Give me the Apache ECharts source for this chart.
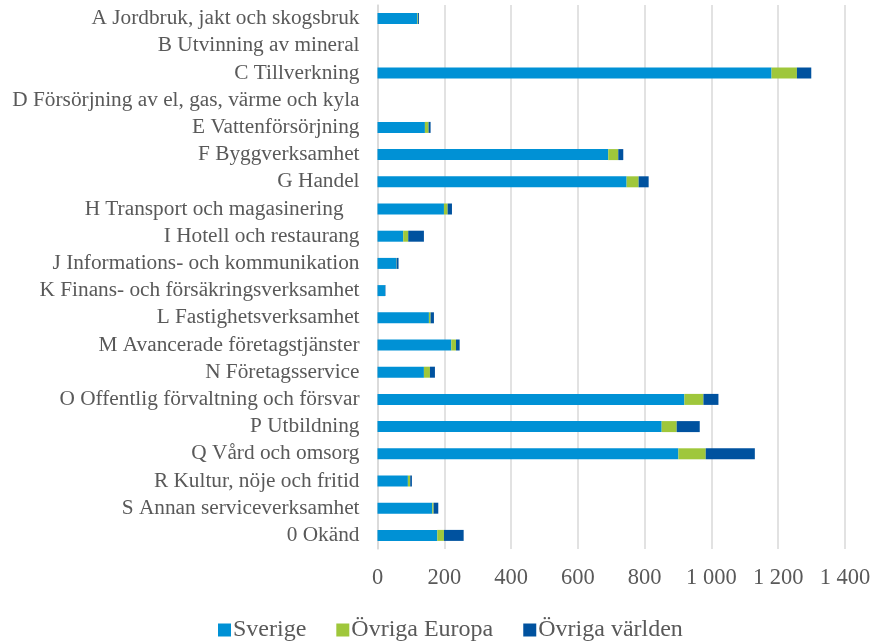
<!DOCTYPE html>
<html>
<head>
<meta charset="utf-8">
<script src="https://cdn.jsdelivr.net/npm/echarts@6/dist/echarts.min.js"></script>
<style>
  html, body { margin: 0; padding: 0; background: #fff; }
  #chart { width: 875px; height: 643px; }
</style>
</head>
<body>
<div id="chart"></div>
<script>
// Industry categories (top to bottom)
const categories = [
  'A Jordbruk, jakt och skogsbruk',
  'B Utvinning av mineral',
  'C Tillverkning',
  'D Försörjning av el, gas, värme och kyla',
  'E Vattenförsörjning',
  'F Byggverksamhet',
  'G Handel',
  'H Transport och magasinering   ',
  'I Hotell och restaurang',
  'J Informations- och kommunikation',
  'K Finans- och försäkringsverksamhet',
  'L Fastighetsverksamhet',
  'M Avancerade företagstjänster',
  'N Företagsservice',
  'O Offentlig förvaltning och försvar',
  'P Utbildning',
  'Q Vård och omsorg',
  'R Kultur, nöje och fritid',
  'S Annan serviceverksamhet',
  '0 Okänd'
];

const sverige       = [119, 0, 1180, 0, 142, 691, 746, 199, 77, 56, 23, 154, 221, 139, 919, 851, 901, 91, 164, 179];
const ovrigaEuropa  = [2,   0, 76,   0, 11,  30,  36,  11,  15, 1,  0,  5,   14,  18,  57,  45,  82,  7,  4,   20];
const ovrigaVarlden = [3,   0, 43,   0, 6,   15,  30,  13,  47, 6,  1,  10,  11,  15,  45,  69,  147, 5,  14,  59];

const seriesNames = ['Sverige', 'Övriga Europa', 'Övriga världen'];
const seriesColors = ['#0091d5', '#9fc73b', '#00529f'];

const fontFamily = '"Liberation Serif", "Times New Roman", serif';

// thousands grouped with a space, e.g. 1 200
function fmt(v) {
  return String(v).replace(/\B(?=(\d{3})+(?!\d))/g, ' ');
}

const chart = echarts.init(document.getElementById('chart'));
chart.setOption({
  animation: false,
  grid: { left: 377.5, right: 30, top: 5, bottom: 94, containLabel: false },
  legend: {
    bottom: -4,
    left: 213,
    itemWidth: 13,
    itemHeight: 13,
    itemGap: 30,
    icon: 'rect',
    textStyle: { fontFamily, fontSize: 24, color: '#595959', padding: [0, 0, 0, -3] },
    data: seriesNames
  },
  xAxis: {
    type: 'value',
    min: 0,
    max: 1400,
    interval: 200,
    axisLine: { show: false },
    axisTick: { show: false },
    splitLine: { lineStyle: { color: '#d9d9d9', width: 1.5 } },
    axisLabel: {
      fontFamily, fontSize: 22.5, color: '#595959', margin: 18,
      formatter: fmt
    }
  },
  yAxis: {
    type: 'category',
    inverse: true,
    data: categories,
    axisLine: { show: true, lineStyle: { color: '#d9d9d9', width: 1.5 } },
    axisTick: { show: false },
    axisLabel: { fontFamily, fontSize: 21.3, color: '#595959', margin: 18, interval: 0, hideOverlap: false }
  },
  series: [sverige, ovrigaEuropa, ovrigaVarlden].map((d, i) => ({
    name: seriesNames[i],
    type: 'bar',
    stack: 'total',
    data: d,
    barWidth: 11,
    itemStyle: { color: seriesColors[i] }
  }))
});
</script>
</body>
</html>
